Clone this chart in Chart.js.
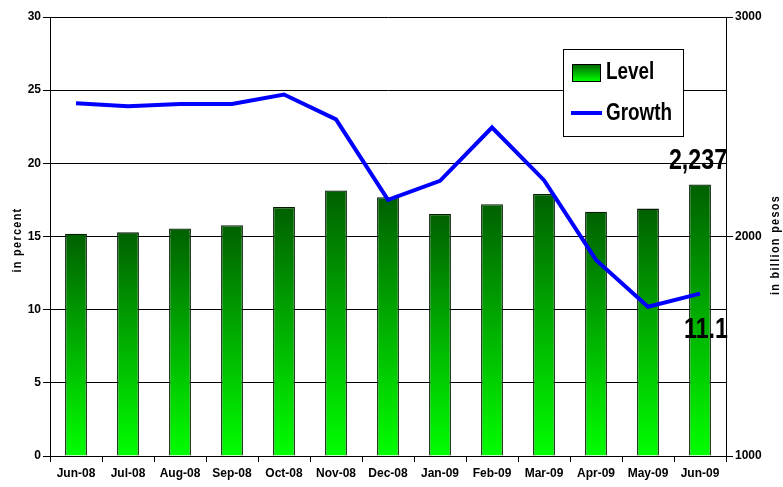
<!DOCTYPE html>
<html>
<head>
<meta charset="utf-8">
<script src="https://cdn.jsdelivr.net/npm/chart.js@4.4.1/dist/chart.umd.min.js"></script>
<style>
  html, body { margin: 0; padding: 0; background: #fff; }
  #wrap { width: 783px; height: 487px; }
</style>
</head>
<body>
<div id="wrap"><canvas id="chart" width="783" height="487"></canvas></div>
<script>
// data
const months = ["Jun-08", "Jul-08", "Aug-08", "Sep-08", "Oct-08", "Nov-08", "Dec-08",
  "Jan-09", "Feb-09", "Mar-09", "Apr-09", "May-09", "Jun-09"];
const level = [2013, 2019, 2037, 2051, 2134, 2210, 2179, 2103, 2147, 2194, 2113, 2127, 2237];
const growth = [24.1, 23.9, 24.05, 24.05, 24.7, 23.0, 17.5, 18.8, 22.45, 18.85, 13.4, 10.2, 11.1];
const percentTicks = [0, 5, 10, 15, 20, 25, 30];
const pesoTicks = [1000, 2000, 3000];

const FONT = "'Liberation Sans', Arial, sans-serif";

function barGradient(c) {
  const chart = c.chart;
  if (!chart.chartArea || c.raw == null) return "#008000";
  const top = chart.scales.y2.getPixelForValue(c.raw);
  const g = chart.ctx.createLinearGradient(0, top, 0, chart.chartArea.bottom);
  g.addColorStop(0, "#006000");
  g.addColorStop(1, "#00ff00");
  return g;
}

// narrow text: squeeze a normal face horizontally
function narrowText(ctx, text, x, y, sx) {
  ctx.save();
  ctx.translate(x, y);
  ctx.scale(sx, 1);
  ctx.fillText(text, 0, 0);
  ctx.restore();
}

// legend box, data labels and axis titles
const extras = {
  id: "extras",
  afterDatasetsDraw(chart) {
    const ctx = chart.ctx;
    const x = chart.scales.x;
    const last = level.length - 1;
    const px = x.getPixelForValue(last);
    ctx.save();
    ctx.fillStyle = "#000";
    ctx.font = "bold 29px " + FONT;
    ctx.textAlign = "center";
    ctx.textBaseline = "alphabetic";
    narrowText(ctx, level[last].toLocaleString("en-US"), px - 2, chart.scales.y2.getPixelForValue(level[last]) - 15, 0.8);
    narrowText(ctx, growth[last].toFixed(1), px + 6, chart.scales.y.getPixelForValue(growth[last]) + 44, 0.8);

    // legend
    ctx.fillStyle = "#fff";
    ctx.fillRect(563, 49, 120, 87);
    ctx.strokeStyle = "#000";
    ctx.lineWidth = 1;
    ctx.strokeRect(563.5, 49.5, 120, 87);
    const g = ctx.createLinearGradient(0, 64, 0, 81);
    g.addColorStop(0, "#006000");
    g.addColorStop(1, "#00ff00");
    ctx.fillStyle = g;
    ctx.fillRect(572, 64, 28, 17);
    ctx.strokeRect(572.5, 64.5, 28, 17);
    ctx.strokeStyle = "#0000ff";
    ctx.lineWidth = 4;
    ctx.beginPath();
    ctx.moveTo(571, 113);
    ctx.lineTo(602, 113);
    ctx.stroke();
    ctx.fillStyle = "#000";
    ctx.font = "bold 23px " + FONT;
    ctx.textAlign = "left";
    ctx.textBaseline = "middle";
    narrowText(ctx, "Level", 606, 73, 0.82);
    narrowText(ctx, "Growth", 606, 114, 0.82);

    // axis titles
    ctx.font = "bold 12px " + FONT;
    ctx.textAlign = "center";
    ctx.letterSpacing = "1.5px";
    ctx.translate(18, 240);
    ctx.rotate(-Math.PI / 2);
    ctx.scale(0.9, 1);
    ctx.fillText("in percent", 0, 0);
    ctx.setTransform(1, 0, 0, 1, 0, 0);
    ctx.translate(776, 245);
    ctx.rotate(-Math.PI / 2);
    ctx.scale(0.9, 1);
    ctx.fillText("in billion pesos", 0, 0);
    ctx.restore();
  }
};

const tickFont = { family: FONT, size: 12, weight: "bold" };

new Chart(document.getElementById("chart"), {
  data: {
    labels: months,
    datasets: [
      {
        type: "line",
        label: "Growth",
        data: growth,
        yAxisID: "y",
        borderColor: "#0000ff",
        borderWidth: 4,
        pointRadius: 0,
        tension: 0,
        order: 0
      },
      {
        type: "bar",
        label: "Level",
        data: level,
        yAxisID: "y2",
        backgroundColor: barGradient,
        borderColor: "#001a00",
        borderWidth: 1.3,
        categoryPercentage: 1,
        barPercentage: 0.42,
        base: 1000,
        order: 1
      }
    ]
  },
  options: {
    responsive: false,
    animation: false,
    layout: { padding: { top: 17, left: 0, right: 0, bottom: 0 } },
    plugins: { legend: { display: false }, tooltip: { enabled: false } },
    scales: {
      x: {
        offset: true,
        grid: { display: true, drawOnChartArea: false, offset: true, color: "#000", tickLength: 6 },
        border: { display: true, color: "#000", width: 1 },
        ticks: { color: "#000", font: tickFont, maxRotation: 0, autoSkip: false, padding: 4 },
        afterFit(s) { s.height = 31; }
      },
      y: {
        position: "left",
        min: 0,
        max: 30,
        afterBuildTicks(s) { s.ticks = percentTicks.map(v => ({ value: v })); },
        grid: { color: "#000", tickLength: 7, lineWidth: 1 },
        border: { display: true, color: "#000", width: 1 },
        ticks: { color: "#000", font: tickFont, padding: 2 },
        afterFit(s) { s.width = 50; }
      },
      y2: {
        position: "right",
        min: 1000,
        max: 3000,
        afterBuildTicks(s) { s.ticks = pesoTicks.map(v => ({ value: v })); },
        grid: { drawOnChartArea: false, color: "#000", tickLength: 7 },
        border: { display: true, color: "#000", width: 1 },
        ticks: { color: "#000", font: tickFont, padding: 2, callback: v => String(v) },
        afterFit(s) { s.width = 57; }
      }
    }
  },
  plugins: [extras]
});
</script>
</body>
</html>
